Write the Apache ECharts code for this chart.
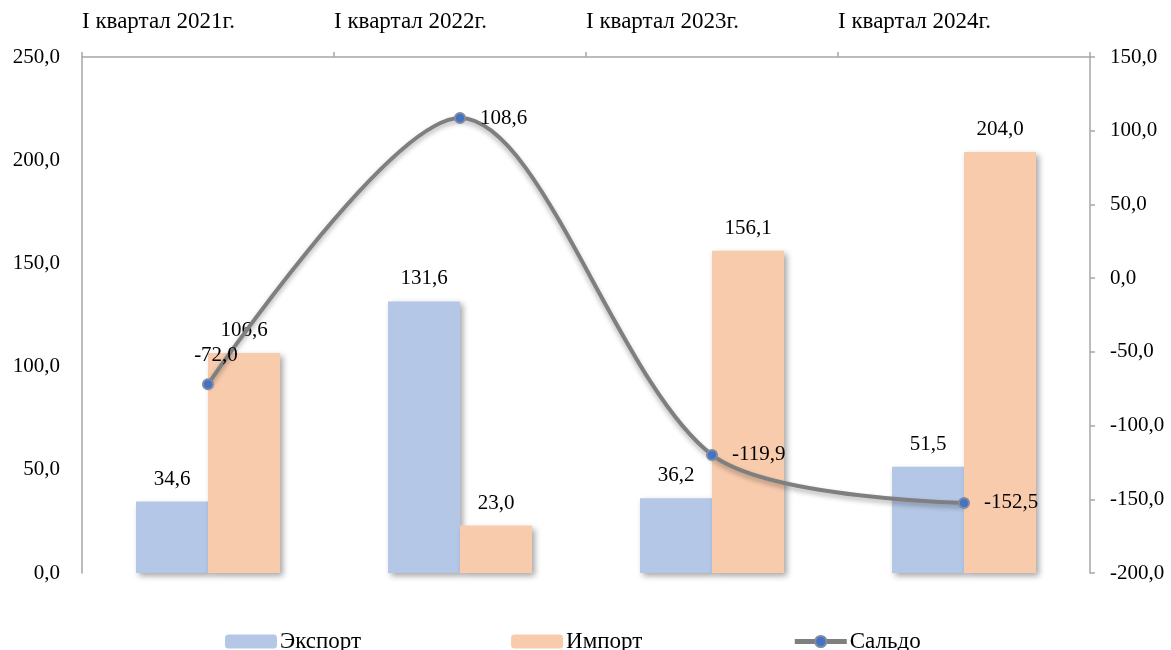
<!DOCTYPE html>
<html>
<head>
<meta charset="utf-8">
<script src="https://cdn.jsdelivr.net/npm/echarts@6/dist/echarts.min.js"></script>
<style>html,body{margin:0;padding:0;background:#fff}#c{width:1171px;height:650px}</style>
</head>
<body>
<div id="c"></div>
<script>
const categories = ['I квартал 2021г.', 'I квартал 2022г.', 'I квартал 2023г.', 'I квартал 2024г.'];
const exportVals = [34.6, 131.6, 36.2, 51.5];
const importVals = [106.6, 23.0, 156.1, 204.0];
const saldoVals = [-72.0, 108.6, -119.9, -152.5];
const seriesNames = ['Экспорт', 'Импорт', 'Сальдо'];

const FONT = '"Liberation Serif", "Times New Roman", serif';
const fmt = v => Number(v).toFixed(1).replace('.', ',');
const axisColor = '#A6A6A6';
const txt = { fontFamily: FONT, fontSize: 21, color: '#000' };

const chart = echarts.init(document.getElementById('c'));
chart.setOption({
  animation: false,
  grid: { left: 82, right: 81, top: 57, bottom: 77 },
  legend: {
    data: [
      { name: seriesNames[0] },
      { name: seriesNames[1] },
      { name: seriesNames[2], lineStyle: { width: 5, color: '#7F7F7F' } }
    ],
    top: 630, left: 225, padding: 0,
    itemWidth: 52, itemHeight: 14, itemGap: 150,
    textStyle: { fontFamily: FONT, fontSize: 23, color: '#000', padding: [0, 0, 0, -2] }
  },
  xAxis: [
    {
      type: 'category', data: categories, position: 'bottom',
      axisLine: { show: false }, axisTick: { show: false }, axisLabel: { show: false }
    },
    {
      type: 'category', data: categories.concat(['']), position: 'top', boundaryGap: false,
      axisLine: { show: true, onZero: false, lineStyle: { color: axisColor, width: 1.5 } },
      axisTick: { show: true, length: 5, lineStyle: { color: axisColor, width: 1.5 } },
      axisLabel: Object.assign({}, txt, { interval: 0, align: 'left', margin: 24, fontSize: 23 }),
      splitLine: { show: false }
    }
  ],
  yAxis: [
    {
      type: 'value', min: 0, max: 250, interval: 50, position: 'left',
      axisLine: { show: true, lineStyle: { color: axisColor, width: 1.5 } },
      axisTick: { show: false }, splitLine: { show: false },
      axisLabel: Object.assign({ margin: 22, formatter: fmt }, txt)
    },
    {
      type: 'value', min: -200, max: 150, interval: 50, position: 'right',
      axisLine: { show: true, lineStyle: { color: axisColor, width: 1.5 } },
      axisTick: { show: true, length: 5, lineStyle: { color: axisColor, width: 1.5 } },
      splitLine: { show: false },
      axisLabel: Object.assign({ margin: 20, formatter: fmt }, txt)
    }
  ],
  series: [
    {
      name: seriesNames[0], type: 'bar', xAxisIndex: 0, yAxisIndex: 0,
      data: exportVals, barWidth: 72, barGap: '0%',
      itemStyle: { color: '#B4C7E7', shadowColor: 'rgba(0,0,0,0.35)', shadowBlur: 6, shadowOffsetX: 3, shadowOffsetY: 3 },
      label: Object.assign({ show: true, position: 'top', distance: 12, formatter: p => fmt(p.value) }, txt)
    },
    {
      name: seriesNames[1], type: 'bar', xAxisIndex: 0, yAxisIndex: 0,
      data: importVals, barWidth: 72, barGap: '0%',
      itemStyle: { color: '#F8CBAD', shadowColor: 'rgba(0,0,0,0.35)', shadowBlur: 6, shadowOffsetX: 3, shadowOffsetY: 3 },
      label: Object.assign({ show: true, position: 'top', distance: 12, formatter: p => fmt(p.value) }, txt)
    },
    {
      name: seriesNames[2], type: 'line', xAxisIndex: 0, yAxisIndex: 1,
      data: saldoVals.map((v, i) => i === 0 ? { value: v, label: { position: 'top', distance: 12, offset: [8, 0] } } : v),
      smooth: 0.3,
      symbol: 'circle', symbolSize: 10,
      lineStyle: { color: '#7F7F7F', width: 4, shadowColor: 'rgba(0,0,0,0.3)', shadowBlur: 5, shadowOffsetY: 3 },
      itemStyle: { color: '#4472C4', borderColor: '#7F8BA0', borderWidth: 2 },
      label: Object.assign({ show: true, position: 'right', distance: 14, formatter: p => fmt(p.value) }, txt),
      z: 5
    }
  ]
});
</script>
</body>
</html>
